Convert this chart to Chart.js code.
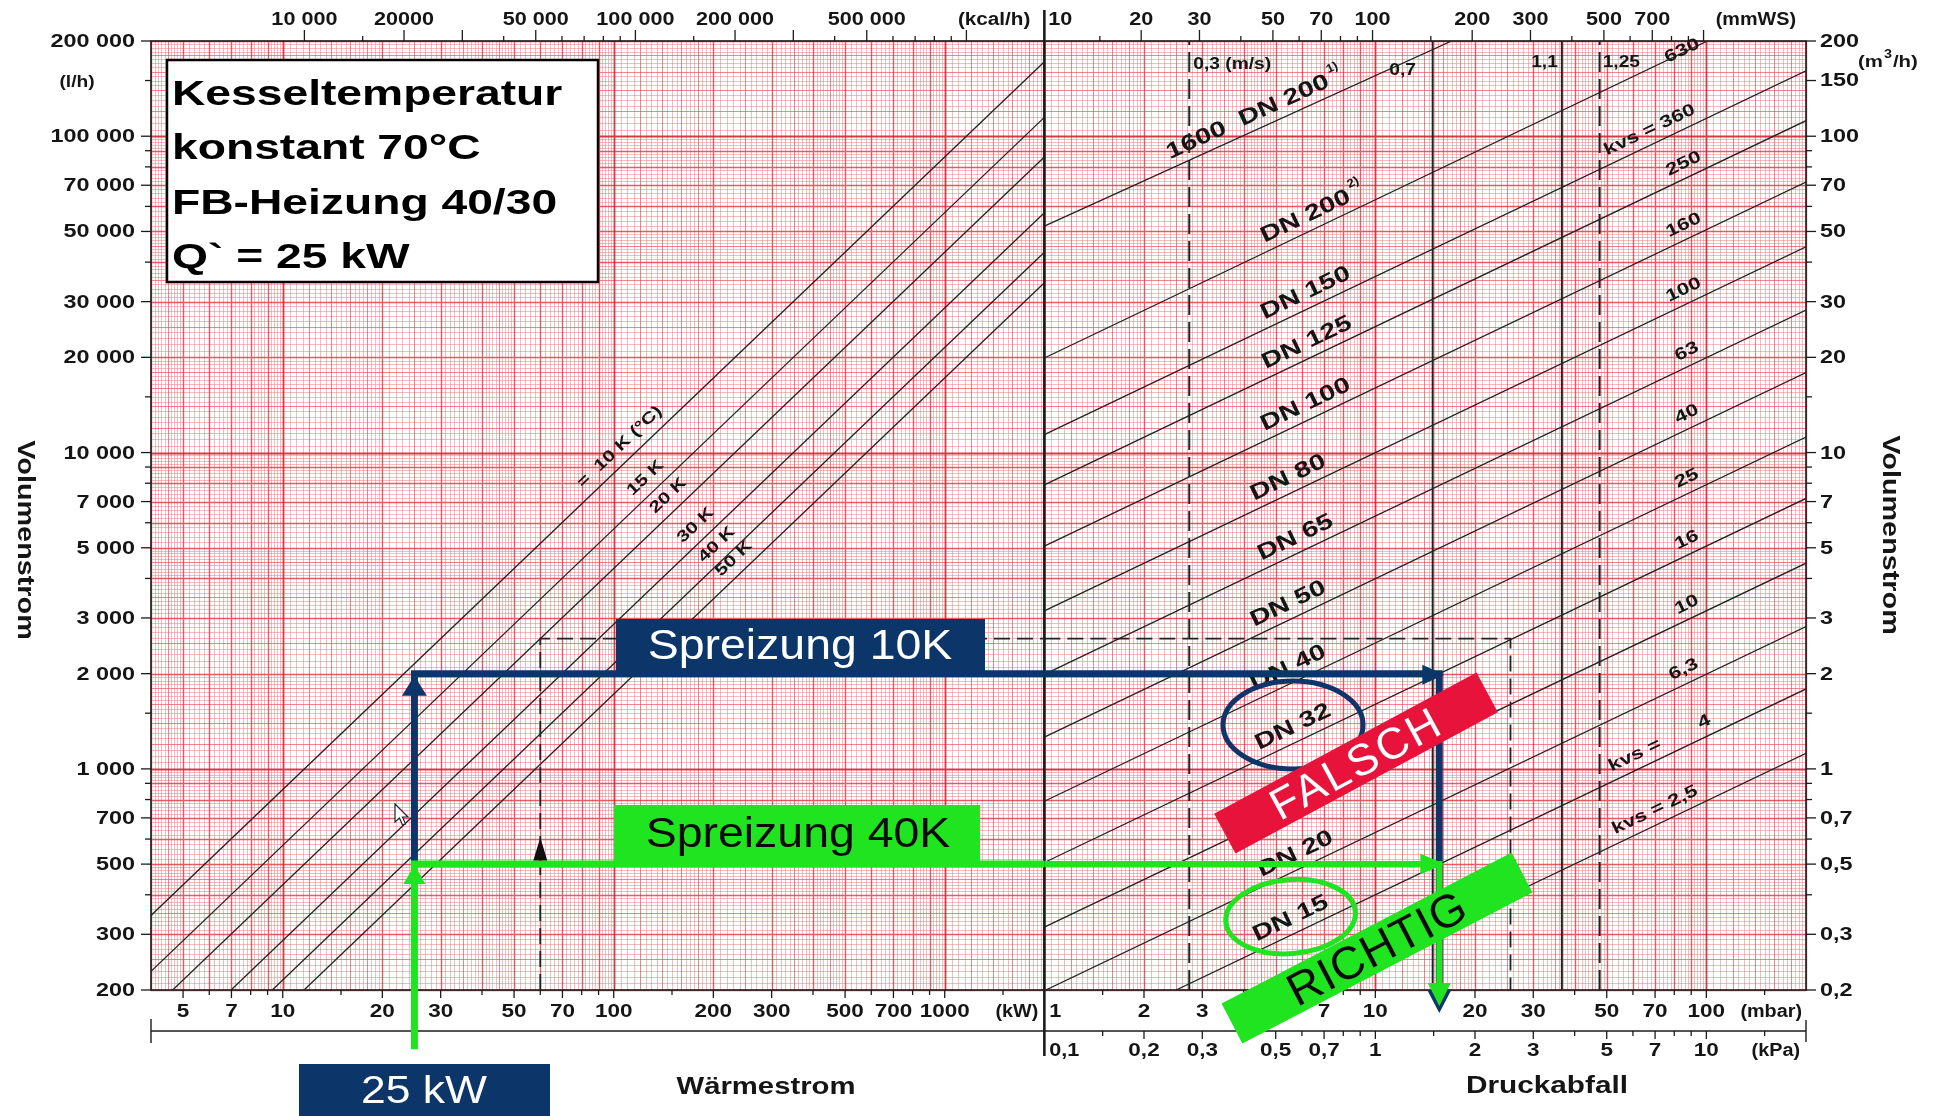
<!DOCTYPE html>
<html lang="de">
<head>
<meta charset="utf-8">
<title>Mischerauslegung – Volumenstrom und Druckabfall</title>
<script src="https://cdn.jsdelivr.net/npm/chart.js@4.4.1/dist/chart.umd.min.js"></script>
<style>
html,body{margin:0;padding:0;background:#fff;overflow:hidden}
canvas{display:block}
</style>
</head>
<body>
<canvas id="nomo" width="1937" height="1116"></canvas>
<script>
// ---------- Wärmestrom-Feld: Spreizungslinien (kW, l/h) ----------
const spreadNames   = ['=  10 K (°C)', '15 K', '20 K', '30 K', '40 K', '50 K'];
const spreadFrom    = [[4, 344], [4, 229], [4.65, 200], [6.98, 200], [9.3, 200], [11.6, 200]];
const spreadTo      = [[2000, 172000], [2000, 114700], [2000, 86000], [2000, 57300], [2000, 43000], [2000, 34400]];
const spreadLabelKW = [112, 134, 157, 190, 220, 248];

// ---------- Druckabfall-Feld: Ventillinien (mbar, m³/h) ----------
const kvsValues    = [1600, 630, 360, 250, 160, 100, 63, 40, 25, 16, 10, 6.3, 4, 2.5];
const kvsFrom      = [[1, 52], [1, 19.9], [1, 11.4], [1, 7.9], [1, 5.06], [1, 3.16], [1, 1.99], [1, 1.26], [1, 0.79], [1, 0.506], [1, 0.316], [1.01, 0.2], [2.5, 0.2], [6.4, 0.2]];
const kvsTo        = [[17, 200], [100.8, 200], [200, 161], [200, 112], [200, 71.6], [200, 44.7], [200, 28.2], [200, 17.9], [200, 11.2], [200, 7.16], [200, 4.47], [200, 2.82], [200, 1.79], [200, 1.12]];
const dnNames      = ['1600  DN 200', 'DN 200', 'DN 150', 'DN 125', 'DN 100', 'DN 80', 'DN 65', 'DN 50', 'DN 40', 'DN 32', 'DN 25', 'DN 20', 'DN 15', ''];
const dnNotes      = ['1)', '2)', '', '', '', '', '', '', '', '', '', '', '', ''];
const dnLabelMbar  = [4.3, 6.44, 6.44, 6.5, 6.44, 5.7, 6.0, 5.7, 5.7, 5.9, 5.7, 6.0, 5.8, 0];
const kvsNames     = ['', '630', 'kvs = 360', '250', '160', '100', '63', '40', '25', '16', '10', '6,3', 'kvs =       4', 'kvs = 2,5'];
const kvsLabelMbar = [0, 85, 70.3, 89, 89, 89, 91, 91, 91, 91, 91, 89, 75.4, 72.9];

// Fließgeschwindigkeit (senkrechte Linien, mbar)
const velMbar   = [2.74, 14.9, 36.6, 47.6];
const velNames  = ['0,3 (m/s)', '0,7', '1,1', '1,25'];
const velDashed = [true, false, false, true];

// Beispiel im Originaldiagramm: 60 kW, 20 K -> 2580 l/h -> 25,6 mbar
const exampleKW = 60, exampleFlow = 2580, exampleMbar = 25.6;

// Auslegung: 25 kW bei 10 K bzw. 40 K Spreizung
const heatKW    = 25;
const flow10K   = 2000;  // l/h
const flow40K   = 500;   // l/h
const valveDp   = 15.6;  // mbar
const startFlow = 130;   // l/h (Beginn des Pfeils unterhalb der Skala)

// ---------- Achsenteilungen ----------
const kwTicks   = [5, 7, 10, 20, 30, 50, 70, 100, 200, 300, 500, 700, 1000];
const kwMinor   = [6, 8, 9, 15, 40, 60, 80, 90, 150, 400, 600, 800, 900, 1500];
const kcalTicks = [10000, 20000, 50000, 100000, 200000, 500000];
const kcalText  = ['10 000', '20000', '50 000', '100 000', '200 000', '500 000'];
const kcalLong  = [30000, 300000, 1000000];
const kcalMinor = [15000, 40000, 60000, 70000, 80000, 90000, 150000, 400000, 600000, 700000, 800000, 900000];
const mmwsTicks = [20, 30, 50, 70, 100, 200, 300, 500, 700];
const mmwsLong  = [1000];
const mmwsMinor = [15, 40, 60, 80, 90, 150, 400, 600, 800, 900];
const mbarTicks = [2, 3, 5, 7, 10, 20, 30, 50, 70, 100];
const mbarMinor = [1.5, 4, 6, 8, 9, 15, 40, 60, 80, 90, 150];
const kpaTicks  = [0.2, 0.3, 0.5, 0.7, 1, 2, 3, 5, 7, 10];
const kpaText   = ['0,2', '0,3', '0,5', '0,7', '1', '2', '3', '5', '7', '10'];
const kpaMinor  = [0.15, 0.4, 0.6, 0.8, 0.9, 1.5, 4, 6, 8, 9, 15];
const lhTicks   = [200000, 100000, 70000, 50000, 30000, 20000, 10000, 7000, 5000, 3000, 2000, 1000, 700, 500, 300, 200];
const lhText    = ['200 000', '100 000', '70 000', '50 000', '30 000', '20 000', '10 000', '7 000', '5 000', '3 000', '2 000', '1 000', '700', '500', '300', '200'];
const lhMinor   = [150000, 90000, 80000, 60000, 40000, 15000, 9000, 8000, 6000, 4000, 1500, 900, 800, 600, 400];
const m3hTicks  = [200, 150, 100, 70, 50, 30, 20, 10, 7, 5, 3, 2, 1, 0.7, 0.5, 0.3, 0.2];
const m3hText   = ['200', '150', '100', '70', '50', '30', '20', '10', '7', '5', '3', '2', '1', '0,7', '0,5', '0,3', '0,2'];
const m3hMinor  = [90, 80, 60, 40, 15, 9, 8, 6, 4, 1.5, 0.9, 0.8, 0.6, 0.4];

// ---------- Farben / Schrift ----------
const NAVY = '#0c3669', GREEN = '#1fe41f', RED = '#e8133b', INK = '#1b1b1b';
const FF = '"Liberation Sans", Arial, Helvetica, sans-serif';
const KCAL_PER_KW = 860, MBAR_PER_MMWS = 0.0980665, MBAR_PER_KPA = 10;

function pts(a, b) { return [{x: a[0], y: a[1]}, {x: b[0], y: b[1]}]; }
function line(data, xAxisID, yAxisID, extra) {
  return Object.assign({data, xAxisID, yAxisID, showLine: true, pointRadius: 0, pointHoverRadius: 0,
    borderColor: '#222', borderWidth: 1.3, fill: false, tension: 0, order: 10}, extra || {});
}

const datasets = [];
spreadFrom.forEach((s, i) => datasets.push(line(pts(s, spreadTo[i]), 'xL', 'yL')));
kvsFrom.forEach((s, i) => datasets.push(line(pts(s, kvsTo[i]), 'xR', 'yR')));
velMbar.forEach((v, i) => datasets.push(line([{x: v, y: 0.2}, {x: v, y: 200}], 'xR', 'yR',
  {borderWidth: 2, borderDash: velDashed[i] ? [20, 7] : [], borderColor: '#222'})));
// Beispiel (gestrichelt)
datasets.push(line([{x: exampleKW, y: 200}, {x: exampleKW, y: exampleFlow}, {x: 2000, y: exampleFlow}], 'xL', 'yL',
  {borderWidth: 1.8, borderDash: [16, 7], borderColor: '#222', order: 9}));
datasets.push(line([{x: 1, y: exampleFlow / 1000}, {x: exampleMbar, y: exampleFlow / 1000}, {x: exampleMbar, y: 0.2}], 'xR', 'yR',
  {borderWidth: 1.8, borderDash: [16, 7], borderColor: '#222', order: 9}));
// Spreizung 10 K
const pathStyle = {borderWidth: 7, borderJoinStyle: 'miter', borderCapStyle: 'butt', clip: false};
datasets.push(line([{x: heatKW, y: flow40K}, {x: heatKW, y: flow10K}, {x: 2000, y: flow10K}], 'xL', 'yL',
  Object.assign({borderColor: NAVY, order: 2}, pathStyle)));
datasets.push(line([{x: 1, y: flow10K / 1000}, {x: valveDp, y: flow10K / 1000}, {x: valveDp, y: 0.2}], 'xR', 'yR',
  Object.assign({borderColor: NAVY, order: 2}, pathStyle)));
// Spreizung 40 K
datasets.push(line([{x: heatKW, y: startFlow}, {x: heatKW, y: flow40K}, {x: 2000, y: flow40K}], 'xL', 'yL',
  Object.assign({borderColor: GREEN, order: 1}, pathStyle)));
datasets.push(line([{x: 1, y: flow40K / 1000}, {x: valveDp, y: flow40K / 1000}, {x: valveDp, y: 0.2}], 'xR', 'yR',
  Object.assign({borderColor: GREEN, order: 1}, pathStyle, {borderWidth: 6})));

// ---------- Zeichenhilfen ----------
function txt(ctx, s, x, y, o) {
  ctx.save();
  ctx.translate(x, y);
  if (o.rot) ctx.rotate(o.rot);
  ctx.scale(o.sx || 1, 1);
  ctx.font = (o.bold ? 'bold ' : '') + o.size + 'px ' + FF;
  ctx.fillStyle = o.color || '#151515';
  ctx.textAlign = o.align || 'center';
  ctx.textBaseline = o.base || 'middle';
  if (o.ls) ctx.letterSpacing = o.ls + 'px';
  ctx.fillText(s, 0, 0);
  ctx.restore();
}
function seg(ctx, x1, y1, x2, y2) { ctx.beginPath(); ctx.moveTo(x1, y1); ctx.lineTo(x2, y2); ctx.stroke(); }

// Teilung des Logarithmuspapiers
function paperMarks(min, max) {
  const out = [];
  const k0 = Math.floor(Math.log10(min) + 1e-9), k1 = Math.ceil(Math.log10(max) - 1e-9);
  for (let k = k0; k <= k1; k++) {
    const b = Math.pow(10, k);
    for (let m = 100; m < 1000;) {
      const step = m < 200 ? 5 : (m < 500 ? 10 : 20);
      let lvl = 0;
      if (m === 100) lvl = 3;
      else if (m % 100 === 0) lvl = 2;
      else if ((m < 200 && m % 20 === 0) || (m >= 200 && m < 500 && m % 50 === 0)) lvl = 1;
      const v = b * m / 100;
      if (v >= min * 0.9999 && v <= max * 1.0001) out.push({v, lvl});
      m += step;
    }
  }
  return out;
}
const PAPER = [
  {c: 'rgba(240,118,128,0.5)', w: 1},
  {c: 'rgba(232,75,88,0.68)', w: 1},
  {c: 'rgba(224,50,64,0.8)', w: 1.4},
  {c: 'rgba(214,36,50,0.9)', w: 1.8}
];

function lineAt(scaleX, scaleY, from, to, xv) {
  const t = (Math.log10(xv) - Math.log10(from[0])) / (Math.log10(to[0]) - Math.log10(from[0]));
  const yv = Math.pow(10, Math.log10(from[1]) + t * (Math.log10(to[1]) - Math.log10(from[1])));
  const p0 = {x: scaleX.getPixelForValue(from[0]), y: scaleY.getPixelForValue(from[1])};
  const p1 = {x: scaleX.getPixelForValue(to[0]), y: scaleY.getPixelForValue(to[1])};
  return {x: scaleX.getPixelForValue(xv), y: scaleY.getPixelForValue(yv), ang: Math.atan2(p1.y - p0.y, p1.x - p0.x)};
}
function offsetAlong(p, d) { return {x: p.x + d * Math.sin(p.ang), y: p.y - d * Math.cos(p.ang), ang: p.ang}; }

function tri(ctx, x, y, dir, len, half, color) {
  ctx.beginPath();
  if (dir === 'up') { ctx.moveTo(x, y); ctx.lineTo(x - half, y + len); ctx.lineTo(x + half, y + len); }
  if (dir === 'down') { ctx.moveTo(x, y); ctx.lineTo(x - half, y - len); ctx.lineTo(x + half, y - len); }
  if (dir === 'right') { ctx.moveTo(x, y); ctx.lineTo(x - len, y - half); ctx.lineTo(x - len, y + half); }
  ctx.closePath();
  ctx.fillStyle = color;
  ctx.fill();
}
function banner(ctx, cx, cy, w, h, ang, fill, text, o) {
  ctx.save();
  ctx.translate(cx, cy);
  ctx.rotate(ang);
  ctx.fillStyle = fill;
  ctx.fillRect(-w / 2, -h / 2, w, h);
  ctx.restore();
  txt(ctx, text, cx + 3 * Math.sin(-ang), cy + 3 * Math.cos(ang), Object.assign({rot: ang}, o));
}

const nomogram = {
  id: 'nomogram',
  afterLayout(chart) {
    // Die beiden logarithmischen x-Skalen teilen sich die Breite mit gleicher Dekadenlänge
    const a = chart.chartArea, xL = chart.scales.xL, xR = chart.scales.xR;
    const dL = Math.log10(xL.max / xL.min), dR = Math.log10(xR.max / xR.min);
    const split = a.left + (a.right - a.left) * dL / (dL + dR);
    xL.left = a.left; xL.right = split; xL.width = split - a.left; xL.configure();
    xR.left = split; xR.right = a.right; xR.width = a.right - split; xR.configure();
  },
  beforeDatasetsDraw(chart) {
    const {ctx, chartArea: a} = chart;
    const {xL, xR, yL, yR} = chart.scales;
    const split = xL.right;
    ctx.save();
    // Papier
    ctx.fillStyle = '#fff';
    ctx.fillRect(a.left, a.top, a.right - a.left, a.bottom - a.top);
    for (let lvl = 0; lvl < 4; lvl++) {
      ctx.strokeStyle = PAPER[lvl].c; ctx.lineWidth = PAPER[lvl].w;
      ctx.beginPath();
      paperMarks(4, 2000).filter(m => m.lvl === lvl).forEach(m => {
        const x = Math.round(xL.getPixelForValue(m.v)) + 0.5; ctx.moveTo(x, a.top); ctx.lineTo(x, a.bottom);
      });
      paperMarks(1, 200).filter(m => m.lvl === lvl).forEach(m => {
        const x = Math.round(xR.getPixelForValue(m.v)) + 0.5; ctx.moveTo(x, a.top); ctx.lineTo(x, a.bottom);
      });
      paperMarks(200, 200000).filter(m => m.lvl === lvl).forEach(m => {
        const y = Math.round(yL.getPixelForValue(m.v)) + 0.5; ctx.moveTo(a.left, y); ctx.lineTo(a.right, y);
      });
      ctx.stroke();
    }
    // Rahmen, Trennlinie
    ctx.strokeStyle = INK; ctx.lineWidth = 1.6;
    ctx.strokeRect(a.left, a.top, a.right - a.left, a.bottom - a.top);
    ctx.lineWidth = 2.6;
    seg(ctx, split, 10, split, 1056);
    ctx.lineWidth = 1.4;
    seg(ctx, a.left, 1031, a.right, 1031);
    seg(ctx, a.left, 1019, a.left, 1043);
    seg(ctx, a.right, 1020, a.right, 1042);

    const lab = {size: 18, bold: true, sx: 1.2};
    ctx.lineWidth = 1.3;
    // linke Achse l/h
    lhTicks.forEach((v, i) => {
      const y = yL.getPixelForValue(v);
      seg(ctx, a.left - 10, y, a.left, y);
      txt(ctx, lhText[i], a.left - 16, y + 1, {size: 18, bold: true, sx: 1.3, align: 'right'});
    });
    lhMinor.forEach(v => { const y = yL.getPixelForValue(v); seg(ctx, a.left - 6, y, a.left, y); });
    txt(ctx, '(l/h)', a.left - 74, yL.getPixelForValue(150000) + 2, {size: 16, bold: true, sx: 1.2});
    // rechte Achse m³/h
    m3hTicks.forEach((v, i) => {
      const y = yR.getPixelForValue(v);
      seg(ctx, a.right, y, a.right + 10, y);
      txt(ctx, m3hText[i], a.right + 14, y + 1, {size: 18, bold: true, sx: 1.3, align: 'left'});
    });
    m3hMinor.forEach(v => { const y = yR.getPixelForValue(v); seg(ctx, a.right, y, a.right + 6, y); });
    {
      const x0 = a.right + 52, y0 = (yR.getPixelForValue(200) + yR.getPixelForValue(150)) / 2 + 2;
      ctx.save(); ctx.font = 'bold 17px ' + FF;
      const w1 = ctx.measureText('(m').width * 1.2; ctx.font = 'bold 12px ' + FF;
      const w2 = ctx.measureText('3').width * 1.2; ctx.restore();
      txt(ctx, '(m', x0, y0, {size: 17, bold: true, sx: 1.2, align: 'left'});
      txt(ctx, '3', x0 + w1 + 1, y0 - 8, {size: 12, bold: true, sx: 1.2, align: 'left'});
      txt(ctx, '/h)', x0 + w1 + w2 + 2, y0, {size: 17, bold: true, sx: 1.2, align: 'left'});
    }
    // oben: kcal/h
    const topY = a.top - 21;
    kcalTicks.forEach((v, i) => {
      const x = xL.getPixelForValue(v / KCAL_PER_KW);
      seg(ctx, x, a.top - 11, x, a.top);
      txt(ctx, kcalText[i], x, topY, lab);
    });
    kcalLong.forEach(v => { const x = xL.getPixelForValue(v / KCAL_PER_KW); seg(ctx, x, a.top - 11, x, a.top); });
    kcalMinor.forEach(v => { const x = xL.getPixelForValue(v / KCAL_PER_KW); seg(ctx, x, a.top - 5, x, a.top); });
    txt(ctx, '(kcal/h)', split - 14, topY, Object.assign({}, lab, {align: 'right', sx: 1.15}));
    // oben: mmWS
    mmwsTicks.forEach(v => {
      const x = xR.getPixelForValue(v * MBAR_PER_MMWS);
      seg(ctx, x, a.top - 11, x, a.top);
      txt(ctx, String(v), x, topY, lab);
    });
    mmwsLong.forEach(v => { const x = xR.getPixelForValue(v * MBAR_PER_MMWS); seg(ctx, x, a.top - 11, x, a.top); });
    mmwsMinor.forEach(v => { const x = xR.getPixelForValue(v * MBAR_PER_MMWS); seg(ctx, x, a.top - 5, x, a.top); });
    txt(ctx, '10', split + 4, topY, Object.assign({}, lab, {align: 'left'}));
    txt(ctx, '(mmWS)', a.right - 10, topY, Object.assign({}, lab, {align: 'right', sx: 1.1}));
    // unten: kW
    const botY = a.bottom + 22;
    kwTicks.forEach(v => {
      const x = xL.getPixelForValue(v);
      seg(ctx, x, a.bottom, x, a.bottom + 8);
      txt(ctx, String(v), x, botY, Object.assign({}, lab, {sx: 1.25}));
    });
    kwMinor.forEach(v => { const x = xL.getPixelForValue(v); seg(ctx, x, a.bottom, x, a.bottom + 5); });
    txt(ctx, '(kW)', split - 6, botY, Object.assign({}, lab, {align: 'right', sx: 1.1}));
    // unten: mbar
    mbarTicks.forEach(v => {
      const x = xR.getPixelForValue(v);
      seg(ctx, x, a.bottom, x, a.bottom + 8);
      txt(ctx, String(v), x, botY, Object.assign({}, lab, {sx: 1.25}));
    });
    mbarMinor.forEach(v => { const x = xR.getPixelForValue(v); seg(ctx, x, a.bottom, x, a.bottom + 5); });
    txt(ctx, '1', split + 5, botY, Object.assign({}, lab, {align: 'left'}));
    txt(ctx, '(mbar)', a.right - 4, botY, Object.assign({}, lab, {align: 'right', sx: 1.1}));
    // unten: kPa
    const kpaY = 1051;
    kpaTicks.forEach((v, i) => {
      const x = xR.getPixelForValue(v * MBAR_PER_KPA);
      seg(ctx, x, 1031, x, 1039);
      txt(ctx, kpaText[i], x, kpaY, Object.assign({}, lab, {sx: 1.25}));
    });
    kpaMinor.forEach(v => { const x = xR.getPixelForValue(v * MBAR_PER_KPA); seg(ctx, x, 1031, x, 1036); });
    txt(ctx, '0,1', split + 5, kpaY, Object.assign({}, lab, {align: 'left'}));
    txt(ctx, '(kPa)', a.right - 6, kpaY, Object.assign({}, lab, {align: 'right', sx: 1.1}));
    // Achsentitel
    const ttl = {size: 24, bold: true, sx: 1.2};
    txt(ctx, 'Volumenstrom', 25, 540, Object.assign({rot: Math.PI / 2}, ttl));
    txt(ctx, 'Volumenstrom', 1890, 535, Object.assign({rot: Math.PI / 2}, ttl));
    txt(ctx, 'Wärmestrom', 766, 1087, Object.assign({}, ttl, {sx: 1.22}));
    txt(ctx, 'Druckabfall', 1547, 1086, Object.assign({}, ttl, {sx: 1.24}));

    // Beschriftung der Spreizungslinien
    spreadNames.forEach((s, i) => {
      const p = offsetAlong(lineAt(xL, yL, spreadFrom[i], spreadTo[i], spreadLabelKW[i]), 15);
      txt(ctx, s, p.x, p.y, {size: 16, bold: true, sx: 1.3, rot: p.ang});
    });
    // Nennweiten
    dnNames.forEach((s, i) => {
      if (!s) return;
      const p = offsetAlong(lineAt(xR, yR, kvsFrom[i], kvsTo[i], dnLabelMbar[i]), 15);
      txt(ctx, s, p.x, p.y, {size: 22, bold: true, sx: 1.3, rot: p.ang});
      if (dnNotes[i]) {
        ctx.save(); ctx.font = 'bold 22px ' + FF; const w = ctx.measureText(s).width * 1.3; ctx.restore();
        const d = w / 2 + 3;
        txt(ctx, dnNotes[i], p.x + d * Math.cos(p.ang) + 10 * Math.sin(p.ang), p.y + d * Math.sin(p.ang) - 10 * Math.cos(p.ang),
          {size: 12, bold: true, sx: 1.1, rot: p.ang, align: 'left'});
      }
    });
    // kvs-Werte
    kvsNames.forEach((s, i) => {
      if (!s) return;
      const base = lineAt(xR, yR, kvsFrom[i], kvsTo[i], kvsLabelMbar[i]);
      const p = offsetAlong(base, s === '630' ? 2 : 14);
      txt(ctx, s, p.x, p.y, {size: 17, bold: true, sx: 1.3, rot: p.ang});
    });
    // Geschwindigkeiten
    velMbar.forEach((v, i) => {
      const x = xR.getPixelForValue(v);
      const o = {size: 16, bold: true, sx: 1.2};
      if (i === 0) txt(ctx, velNames[i], x + 4, 65, Object.assign(o, {align: 'left'}));
      if (i === 1) txt(ctx, velNames[i], x - 30, 71, o);
      if (i === 2) txt(ctx, velNames[i], x - 4, 63, Object.assign(o, {align: 'right'}));
      if (i === 3) txt(ctx, velNames[i], x + 3, 63, Object.assign(o, {align: 'left'}));
    });
    ctx.restore();
  },
  afterDatasetsDraw(chart) {
    const {ctx} = chart;
    const {xL, xR, yL, yR} = chart.scales;
    ctx.save();
    const qx = xL.getPixelForValue(heatKW);
    const vx = xR.getPixelForValue(valveDp);
    const yBottom = yR.getPixelForValue(0.2);
    // Pfeilspitzen
    tri(ctx, qx, yL.getPixelForValue(flow10K) + 2, 'up', 20, 12.5, NAVY);
    tri(ctx, vx + 5, yR.getPixelForValue(flow10K / 1000) + 1, 'right', 22, 10, NAVY);
    tri(ctx, vx, yBottom + 23, 'down', 23, 12, NAVY);
    tri(ctx, qx, yL.getPixelForValue(flow40K) + 1, 'up', 19, 11, GREEN);
    tri(ctx, vx + 5, yR.getPixelForValue(flow40K / 1000), 'right', 24, 10.5, GREEN);
    tri(ctx, vx, yBottom + 16, 'down', 23, 11.5, GREEN);
    // Beispielpfeile
    tri(ctx, xL.getPixelForValue(exampleKW), yL.getPixelForValue(560) - 11, 'up', 23, 7, '#111');
    tri(ctx, xR.getPixelForValue(exampleMbar) + 2, yR.getPixelForValue(0.5) + 4, 'down', 8, 4, '#111');

    // Markierung der Nennweiten DN 32 und DN 15
    const mark = (i, rx, ry, rot, color) => {
      const p = offsetAlong(lineAt(xR, yR, kvsFrom[i], kvsTo[i], dnLabelMbar[i]), 15);
      ctx.beginPath(); ctx.ellipse(p.x, p.y - 2, rx, ry, rot, 0, Math.PI * 2);
      ctx.strokeStyle = color; ctx.lineWidth = 5; ctx.stroke();
    };
    mark(kvsValues.indexOf(16), 70, 44, 0, NAVY);
    mark(kvsValues.indexOf(4), 65, 37, -0.08, GREEN);

    // Spreizungskästen
    ctx.fillStyle = NAVY; ctx.fillRect(616, 619, 369, 54);
    txt(ctx, 'Spreizung 10K', 800, 647, {size: 43, sx: 1.08, color: '#fff'});
    ctx.fillStyle = GREEN; ctx.fillRect(614, 805, 366, 56);
    txt(ctx, 'Spreizung 40K', 798, 835, {size: 43, sx: 1.08, color: '#0a0a0a'});

    // Bewertung
    banner(ctx, 1356, 763, 298, 45, -0.494, RED, 'FALSCH', {size: 44, color: '#fff', ls: 3});
    banner(ctx, 1377, 948, 327, 45, -0.48, GREEN, 'RICHTIG', {size: 46, color: '#0a0a0a', ls: 1});

    // Leistung
    ctx.fillStyle = NAVY; ctx.fillRect(299, 1064, 251, 60);
    txt(ctx, '25 kW', 424, 1092, {size: 39, sx: 1.14, color: '#fff'});

    // Randbedingungen
    ctx.fillStyle = '#fff'; ctx.fillRect(167, 60, 431, 222);
    ctx.strokeStyle = '#000'; ctx.lineWidth = 2.5; ctx.strokeRect(167, 60, 431, 222);
    const info = ['Kesseltemperatur', 'konstant 70°C', 'FB-Heizung 40/30', 'Q` = 25 kW'];
    info.forEach((s, i) => txt(ctx, s, 172, 105 + i * 54.3, {size: 35, bold: true, sx: 1.32, align: 'left', base: 'alphabetic', color: '#000'}));

    // Mauszeiger
    const cur = [[0, 0], [0, 18], [4.5, 14], [7.5, 21], [10.5, 19.8], [7.5, 13], [13, 13]];
    ctx.beginPath();
    cur.forEach((c, i) => i ? ctx.lineTo(395 + c[0], 804 + c[1]) : ctx.moveTo(395 + c[0], 804 + c[1]));
    ctx.closePath();
    ctx.fillStyle = '#fff'; ctx.fill();
    ctx.strokeStyle = '#222'; ctx.lineWidth = 1.2; ctx.stroke();
    ctx.restore();
  }
};

new Chart(document.getElementById('nomo'), {
  type: 'scatter',
  data: {datasets},
  options: {
    responsive: false,
    devicePixelRatio: 1,
    animation: false,
    events: [],
    layout: {padding: {left: 151, top: 41, right: 131, bottom: 126}},
    plugins: {legend: {display: false}, tooltip: {enabled: false}},
    scales: {
      xL: {type: 'logarithmic', position: 'bottom', min: 4, max: 2000, display: false},
      xR: {type: 'logarithmic', position: 'bottom', min: 1, max: 200, display: false},
      yL: {type: 'logarithmic', position: 'left', min: 200, max: 200000, display: false},
      yR: {type: 'logarithmic', position: 'right', min: 0.2, max: 200, display: false}
    }
  },
  plugins: [nomogram]
});
</script>
</body>
</html>
